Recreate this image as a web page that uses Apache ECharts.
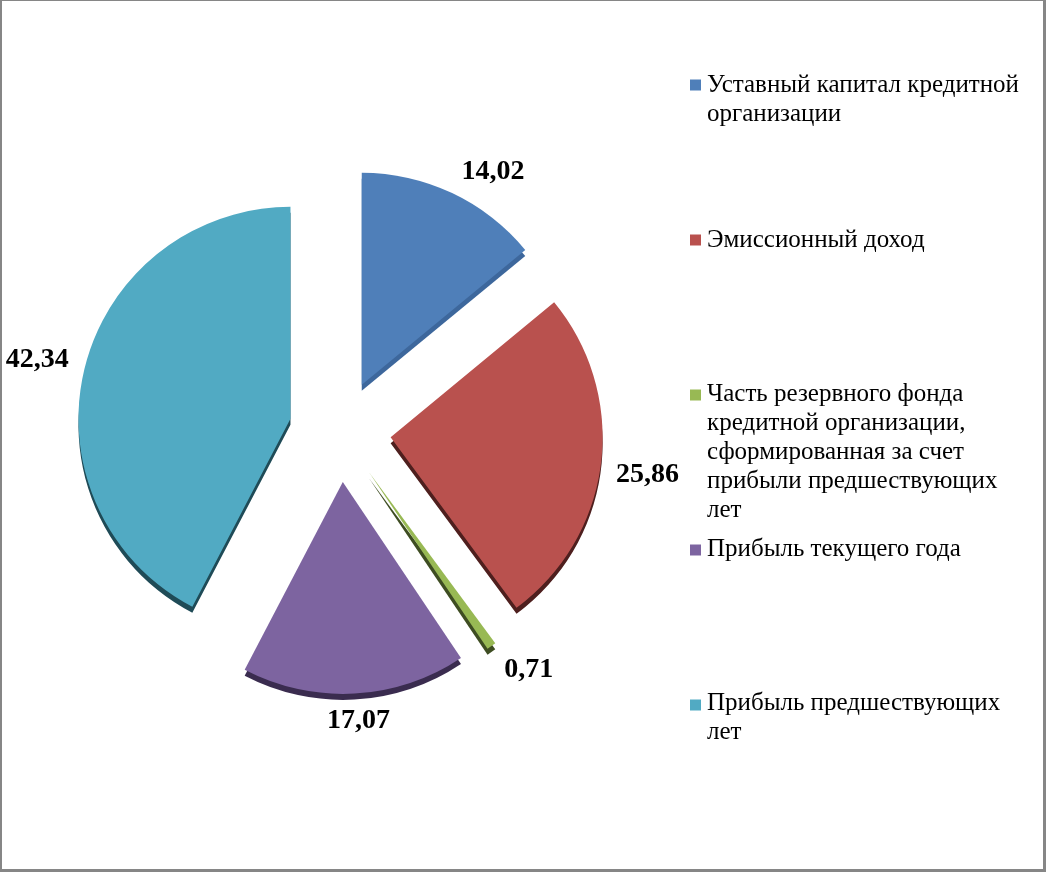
<!DOCTYPE html>
<html>
<head>
<meta charset="utf-8">
<script src="https://cdn.jsdelivr.net/npm/echarts@6/dist/echarts.min.js"></script>
<style>
  html, body { margin: 0; padding: 0; background: #fff; }
  #chart { position: absolute; left: 0; top: 0; width: 1046px; height: 872px; }
  #frame {
    position: absolute; left: 0; top: 0; width: 1046px; height: 872px; box-sizing: border-box;
    border-style: solid; border-color: #868686; border-width: 1px 3px 3px 2px; pointer-events: none;
  }
</style>
</head>
<body>
<div id="chart"></div>
<div id="frame"></div>
<script>
const categories = [
  'Уставный капитал кредитной организации',
  'Эмиссионный доход',
  'Часть резервного фонда кредитной организации, сформированная за счет прибыли предшествующих лет',
  'Прибыль текущего года',
  'Прибыль предшествующих лет',
]
const values = [14.02, 25.86, 0.71, 17.07, 42.34]

const colors = ['#4f7fb9', '#b9514e', '#98b954', '#7d64a0', '#51aac3']
const sideColors = ['#3d679c', '#4e1f1e', '#3e4d22', '#3a2c4f', '#1f4b57']
// small nudges of the value labels (px)
const labelShift = [[0, -12], [0, 10], [2, 16], [-33, 17], [-1, -6]]
// y of the first text line of every legend entry
const legendLineY = [85, 240, 394, 549, 703]

const FONT = "'Liberation Serif', 'Times New Roman', serif"
const LEGEND_SIZE = 25
const CENTER = [340, 431]
const RADIUS = 212
const EXPLODE = 51
const SIDE = 6

// word wrap for the legend texts
const measureCtx = document.createElement('canvas').getContext('2d')
function wrapText(text, maxWidth) {
  measureCtx.font = `${LEGEND_SIZE}px ${FONT}`
  const lines = []
  let line = ''
  text.split(' ').forEach(w => {
    const t = line ? line + ' ' + w : w
    if (line && measureCtx.measureText(t).width > maxWidth) {
      lines.push(line)
      line = w
    } else {
      line = t
    }
  })
  lines.push(line)
  return lines.join('\n')
}

const chart = echarts.init(document.getElementById('chart'), null, { renderer: 'canvas' })

const pieData = (cols) => categories.map((name, i) => ({
  name, value: values[i], selected: true, itemStyle: { color: cols[i] },
}))

const legends = [{
  orient: 'vertical', left: 690, top: legendLineY[0] - 5.5, padding: 0,
  itemGap: legendLineY[1] - legendLineY[0] - 11,
  icon: 'rect', itemWidth: 11, itemHeight: 11,
  data: categories, formatter: () => '', textStyle: { fontSize: 1 },
}].concat(categories.map((name, i) => ({
  left: 702, top: legendLineY[i] - 14.5, padding: 0,
  icon: 'none', itemWidth: 0, itemHeight: 10,
  data: [name],
  formatter: n => wrapText(n, 326),
  textStyle: { fontFamily: FONT, fontSize: LEGEND_SIZE, lineHeight: 29, color: '#000' },
})))

const option = {
  animation: false,
  color: colors,
  legend: legends,
  series: [
    {
      name: 'main', type: 'pie', z: 3,
      center: CENTER, radius: RADIUS,
      startAngle: 90, clockwise: true,
      selectedMode: 'multiple', selectedOffset: EXPLODE,
      avoidLabelOverlap: false,
      data: pieData(colors),
      label: {
        show: true, position: 'outside',
        fontFamily: FONT, fontSize: 28, fontWeight: 'bold', color: '#000',
        formatter: p => p.value.toFixed(2).replace('.', ','),
      },
      labelLine: { show: false, length: 10, length2: 0 },
      labelLayout: p => ({ dx: labelShift[p.dataIndex][0], dy: labelShift[p.dataIndex][1] }),
      emphasis: { scale: false },
    },
    {
      name: 'side', type: 'pie', z: 2, silent: true,
      center: [CENTER[0], CENTER[1] + SIDE], radius: RADIUS,
      startAngle: 90, clockwise: true,
      selectedMode: 'multiple', selectedOffset: EXPLODE,
      data: pieData(sideColors),
      label: { show: false },
      labelLine: { show: false },
      emphasis: { disabled: true },
    },
  ],
}

chart.setOption(option)
</script>
</body>
</html>
